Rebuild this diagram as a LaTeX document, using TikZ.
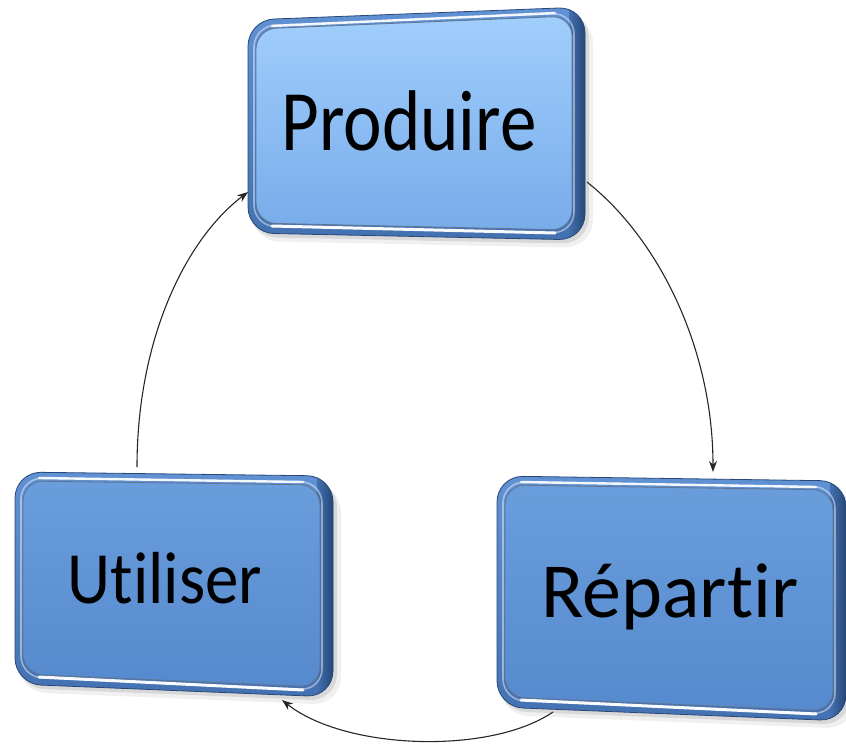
\documentclass[tikz,border=0pt]{standalone}
\usepackage{fontspec}
\setmainfont{Carlito}[Ligatures=NoCommon]
\usepackage{graphicx}
\usetikzlibrary{calc,arrows.meta}

\definecolor{facePtop}{RGB}{160,206,252}
\definecolor{facePbot}{RGB}{120,172,234}
\definecolor{faceTop}{RGB}{106,157,220}
\definecolor{faceBot}{RGB}{86,138,206}
\definecolor{rimTop}{RGB}{96,146,212}
\definecolor{rimBot}{RGB}{66,112,176}
\definecolor{rimDark}{RGB}{30,58,100}
\definecolor{edgeDark}{RGB}{40,72,120}

\tikzset{
  conn/.style={draw=black!85, line width=1.1pt, -{Stealth[length=11pt,width=8pt]}},
  boxlabel/.style={anchor=base, inner sep=0pt, text=black},
}

% #1..#4 corners TL TR BR BL, #5 face top colour, #6 face bottom colour
\newcommand\bevelbox[6]{%
  \fill[black,opacity=0.06,rounded corners=28pt]
    ($(#1)+(3,8)$) -- ($(#2)+(8,8)$) -- ($(#3)+(8,8)$) -- ($(#4)+(3,8)$) -- cycle;
  \fill[black,opacity=0.10,rounded corners=27pt]
    ($(#1)+(2,4)$) -- ($(#2)+(4,4)$) -- ($(#3)+(4,4)$) -- ($(#4)+(2,4)$) -- cycle;
  \begin{scope}
    \clip[rounded corners=26pt] (#1) -- (#2) -- (#3) -- (#4) -- cycle;
    \shade[top color=rimTop, bottom color=rimBot]
      ($(#1)+(-5,-5)$) -- ($(#2)+(5,-5)$) -- ($(#3)+(5,5)$) -- ($(#4)+(-5,5)$) -- cycle;
    \shade[left color=rimBot, right color=rimDark]
      ($(#2)+(-16,-5)$) -- ($(#2)+(5,-5)$) -- ($(#3)+(5,5)$) -- ($(#3)+(-16,5)$) -- cycle;
  \end{scope}
  \draw[edgeDark, line width=0.8pt, rounded corners=26pt]
    (#1) -- (#2) -- (#3) -- (#4) -- cycle;
  \draw[white, opacity=0.45, line width=1.6pt, rounded corners=21pt]
    ($(#1)+(6,6)$) -- ($(#2)+(-11,6)$) -- ($(#3)+(-11,-7)$) -- ($(#4)+(6,-7)$) -- cycle;
  \draw[white, opacity=0.9, line width=2.4pt, line cap=round]
    ($(#1)+(24,6)$) -- ($(#2)+(-30,6)$);
  \draw[white, opacity=0.95, line width=3pt, line cap=round]
    ($(#4)+(24,-7)$) -- ($(#3)+(-30,-7)$);
  \shade[rounded corners=20pt, top color=#5, bottom color=#6,
         draw=rimDark!70, line width=0.8pt]
    ($(#1)+(8,9)$) -- ($(#2)+(-13,9)$) -- ($(#3)+(-13,-10)$) -- ($(#4)+(8,-10)$) -- cycle;
}

\begin{document}
\begin{tikzpicture}[x=1pt,y=-1pt]
\useasboundingbox (0,0) rectangle (846,744);

% boxes
\bevelbox{248,20}{585,7}{585,240}{248,233}{facePtop}{facePbot}
\bevelbox{15,472}{333,476}{333,697}{15,684}{faceTop}{faceBot}
\bevelbox{497,476}{846,481}{846,721}{497,707}{faceTop}{faceBot}

% labels
\node[boxlabel] (prod) at (409,150)
  {\fontsize{73}{80}\selectfont\scalebox{1}[1.18]{Produire}};
\node[boxlabel] (util) at (165,603)
  {\fontsize{67}{75}\selectfont\scalebox{1}[1.1]{Utiliser}};
\node[boxlabel] (rep) at (670,617)
  {\fontsize{78}{86}\selectfont Répartir};

% connector end points on the box edges
\coordinate (p-out) at (587,182);
\coordinate (r-in)  at (713,472);
\coordinate (r-out) at (553,712);
\coordinate (u-in)  at (282,700);
\coordinate (u-out) at (137,467);
\coordinate (p-in)  at (248,192);

\draw[conn] (p-out) .. controls (660,240) and (713,350) .. (r-in);
\draw[conn] (r-out) .. controls (490,755) and (345,750) .. (u-in);
\draw[conn] (u-out) .. controls (137,340) and (185,240) .. (p-in);
\end{tikzpicture}
\end{document}
